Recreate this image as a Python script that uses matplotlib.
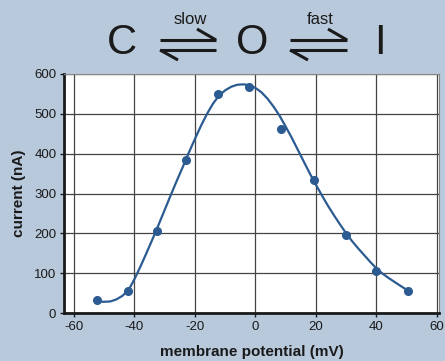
import matplotlib.pyplot as plt
from matplotlib.lines import Line2D

plt.rcParams["font.family"] = ["Liberation Sans", "DejaVu Sans"]
plt.rcParams["axes.unicode_minus"] = False

BG = "#b9c9dc"
BLUE = "#2b5b91"
INK = "#1a1a1a"

# measured points
volt = [-52.5, -42, -32.5, -23, -12.5, -2, 8.5, 19.3, 29.8, 40, 50.5]
current = [33, 55, 206, 384, 550, 567, 461, 334, 195, 105, 55]

# fitted curve
fit_v = [-52.5, -50.5, -48, -46, -44, -42, -40, -38, -36, -34, -32, -30, -28,
         -26, -24, -22, -20, -18, -16, -14, -12, -10, -8, -6, -4, -2, 0, 2,
         4, 6, 8, 10, 12, 14, 16, 18, 20, 22, 24, 26, 28, 30, 32, 34, 36, 38,
         40, 42, 44, 46, 48, 50.5]
fit_i = [33, 28, 29, 34, 43, 57, 85, 117, 151, 186, 222, 259, 296,
         332, 367, 403, 437, 470, 500, 526, 546, 559, 568, 573, 574, 572, 565, 554,
         538, 518, 495, 468, 440, 410, 380, 350, 322, 295, 269, 245, 222, 200, 180,
         162, 145, 128, 112, 99, 88, 78, 68, 56]

xticks = [-60, -40, -20, 0, 20, 40, 60]
yticks = [0, 100, 200, 300, 400, 500, 600]

W, H = 445, 361
fig = plt.figure(figsize=(W / 100, H / 100), dpi=100)
fig.patch.set_facecolor(BG)
ax = fig.add_axes([64 / W, 1 - 313 / H, 375 / W, 239 / H])
ax.set_facecolor("white")

ax.plot(fit_v, fit_i, color=BLUE, lw=1.6, zorder=3)
ax.plot(volt, current, "o", color=BLUE, ms=5.5, zorder=4)

ax.set_xlim(-63.3, 60.7)
ax.set_ylim(0, 600)
ax.set_xticks(xticks)
ax.set_yticks(yticks)
ax.grid(color="#444444", lw=0.9)
ax.set_axisbelow(True)
for s in ["top", "right"]:
    ax.spines[s].set_color("#888888")
    ax.spines[s].set_linewidth(0.8)
for s in ["left", "bottom"]:
    ax.spines[s].set_color(INK)
    ax.spines[s].set_linewidth(2)
ax.tick_params(length=3, width=1, labelsize=9.5, colors=INK, pad=2.5)
ax.tick_params(top=False, right=False)
ax.set_xlabel("membrane potential (mV)", fontsize=11, fontweight="bold",
              color=INK, labelpad=9)
ax.set_ylabel("current (nA)", fontsize=11, fontweight="bold",
              color=INK, labelpad=6)

# reaction scheme above the plot
def fx(px):
    return px / W

def fy(py):
    return 1 - py / H

for name, cx in [("C", 122), ("O", 252), ("I", 380)]:
    fig.text(fx(cx), fy(43), name, fontsize=30, ha="center", va="center",
             color=INK)

for (x0, x1), word in [((160, 216), "slow"), ((290, 347), "fast")]:
    kw = dict(color=INK, lw=2.2, solid_capstyle="butt")
    fig.add_artist(Line2D([fx(x0), fx(x1)], [fy(40), fy(40)], **kw))
    fig.add_artist(Line2D([fx(x1), fx(x1 - 19)], [fy(40), fy(29)], **kw))
    fig.add_artist(Line2D([fx(x0), fx(x1)], [fy(50), fy(50)], **kw))
    fig.add_artist(Line2D([fx(x0), fx(x0 + 18)], [fy(50), fy(60)], **kw))
    fig.text(fx((x0 + x1) / 2 + 2), fy(19), word, fontsize=12, ha="center",
             va="center", color=INK)

fig.savefig("out.png", dpi=100, facecolor=BG)
